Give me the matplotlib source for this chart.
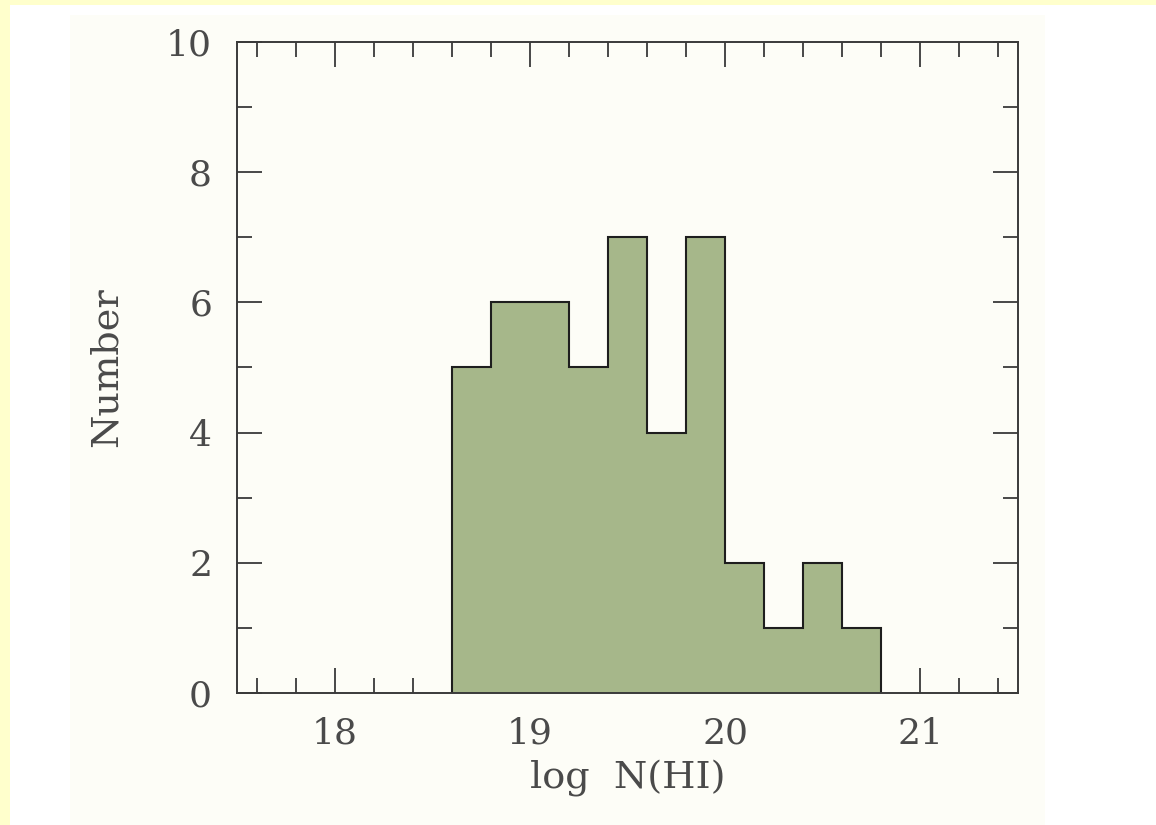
import matplotlib
matplotlib.use("Agg")
import matplotlib.pyplot as plt
from matplotlib.patches import Rectangle
from matplotlib.ticker import MultipleLocator

# HI column density histogram
bin_edges = [18.6, 18.8, 19.0, 19.2, 19.4, 19.6, 19.8, 20.0, 20.2, 20.4, 20.6, 20.8]
counts = [5, 6, 6, 5, 7, 4, 7, 2, 1, 2, 1]

xlabel = "log  N(HI)"
ylabel = "Number"

PANEL = "#fdfdf7"
YELLOW = "#ffffcc"
FILL = "#a6b78a"
INK = "#3a3a3a"
TEXT = "#4a4a4a"
W, H = 1156, 825

plt.rcParams['font.family'] = ['DejaVu Serif']

fig = plt.figure(figsize=(W / 100, H / 100), dpi=100, facecolor="white")

# page background: yellow margins and the off-white slide panel
fig.patches.append(Rectangle((0, 0), 10 / W, 1, transform=fig.transFigure,
                             facecolor=YELLOW, edgecolor="none", zorder=-3))
fig.patches.append(Rectangle((0, 1 - 5 / H), 1, 5 / H, transform=fig.transFigure,
                             facecolor=YELLOW, edgecolor="none", zorder=-3))
fig.patches.append(Rectangle((70 / W, 0), 975 / W, 1 - 15 / H, transform=fig.transFigure,
                             facecolor=PANEL, edgecolor="none", zorder=-2))

ax = fig.add_axes([237 / W, 132 / H, 781 / W, 651 / H])
ax.set_facecolor(PANEL)

ax.stairs(counts, bin_edges, fill=True, color=FILL, zorder=2)
ax.stairs(counts, bin_edges, color="#1e1e1e", linewidth=1.5, zorder=3)

ax.set_xlim(17.5, 21.5)
ax.set_ylim(0, 10)
ax.xaxis.set_major_locator(MultipleLocator(1))
ax.xaxis.set_minor_locator(MultipleLocator(0.2))
ax.yaxis.set_major_locator(MultipleLocator(2))
ax.yaxis.set_minor_locator(MultipleLocator(1))

ax.tick_params(which="both", direction="in", top=True, right=True,
               color=INK, width=1.3, labelsize=26, labelcolor=TEXT)
ax.tick_params(which="major", length=18)
ax.tick_params(which="minor", length=11)
ax.tick_params(axis="x", which="major", pad=17)
ax.tick_params(axis="y", which="major", pad=18)

for s in ax.spines.values():
    s.set_color(INK)
    s.set_linewidth(1.4)
    s.set_zorder(4)

ax.set_xlabel(xlabel, fontsize=27.5, color=TEXT, labelpad=7)
ax.set_ylabel(ylabel, fontsize=27.5, color=TEXT, labelpad=30)

fig.savefig("out.png", dpi=100, facecolor=fig.get_facecolor())
